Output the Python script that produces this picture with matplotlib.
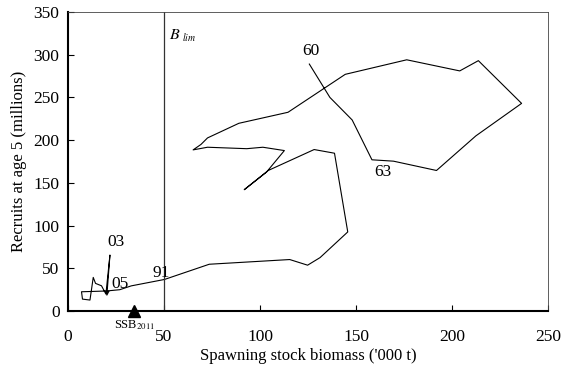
import numpy as np
import matplotlib
matplotlib.use("Agg")
import matplotlib.pyplot as plt

plt.rcParams['font.family'] = ['Liberation Serif', 'DejaVu Serif']
plt.rcParams['mathtext.fontset'] = 'stix'

# year classes 1960-2005: SSB ('000 t) and recruits at age 5 (millions)
years = list(range(1960, 2006))
ssb = [125.7, 136.4, 148.0, 158.3, 169.5, 191.9, 212.4, 236.2, 213.7, 204.0,
       176.4, 144.4, 114.6, 89.0, 72.7, 69.3, 65.2, 72.7, 93.1, 101.5,
       112.7, 103.4, 91.8, 104.3, 128.2, 138.8, 145.7, 131.3, 124.8, 115.5,
       73.6, 50.3, 33.0, 27.0, 20.0, 13.0, 7.1, 7.6, 11.5, 13.2,
       14.4, 17.5, 19.8, 21.9, 20.3, 21.3]
recruits = [289, 250, 223.6, 177, 175.4, 164.5, 205, 243, 293, 281,
            294, 277, 232.6, 219.7, 202.6, 195, 188.6, 191.7, 190, 191.7,
            187.8, 162.6, 142, 164.5, 189, 184.7, 92.6, 62.6, 53.7, 60.3,
            54.8, 37, 29.5, 25, 23.5, 23, 22.6, 14, 12.9, 39.4,
            32.4, 29.6, 19.9, 65.6, 18.7, 23.0]

b_lim = 50
ssb_2011 = 34.5

year_labels = ['60', '63', '91', '03', '05']
label_x = [126.7, 164.0, 48.4, 24.8, 27.0]
label_y = [304.5, 162.5, 44.0, 81.0, 31.5]


def main():
    fig = plt.figure(figsize=(5.61, 3.73), dpi=100)
    ax = fig.add_axes([0.121, 0.166, 0.856, 0.802])

    ax.plot(ssb, recruits, color='black', lw=0.8)
    ax.axvline(b_lim, color='#333333', lw=0.9)
    ax.plot([ssb_2011], [0], marker='^', color='black', markersize=8,
            clip_on=False, zorder=5)

    for lab, x, y in zip(year_labels, label_x, label_y):
        ax.text(x, y, lab, fontsize=12.5, ha='center', va='center')

    ax.text(52.5, 323, r'$B$', fontsize=11.5, ha='left', va='center')
    ax.text(59.5, 320.5, r'$lim$', fontsize=7, ha='left', va='center')
    ax.text(ssb_2011, -8, r'SSB$_{2011}$', fontsize=9, ha='center', va='top')

    ax.set_xlim(0, 250)
    ax.set_ylim(0, 350)
    ax.set_xticks(np.arange(0, 251, 50))
    ax.set_yticks(np.arange(0, 351, 50))
    ax.tick_params(direction='in', length=4, width=0.8, labelsize=12.5, pad=13)
    ax.tick_params(axis='y', pad=6)

    ax.set_xlabel("Spawning stock biomass ('000 t)", fontsize=12, labelpad=2)
    ax.set_ylabel("Recruits at age 5 (millions)", fontsize=12, labelpad=5)

    for side in ['left', 'bottom']:
        ax.spines[side].set_linewidth(1.5)
    for side in ['top', 'right']:
        ax.spines[side].set_linewidth(0.6)
        ax.spines[side].set_color('#444444')

    fig.savefig('out.png', dpi=100)


if __name__ == "__main__":
    main()
